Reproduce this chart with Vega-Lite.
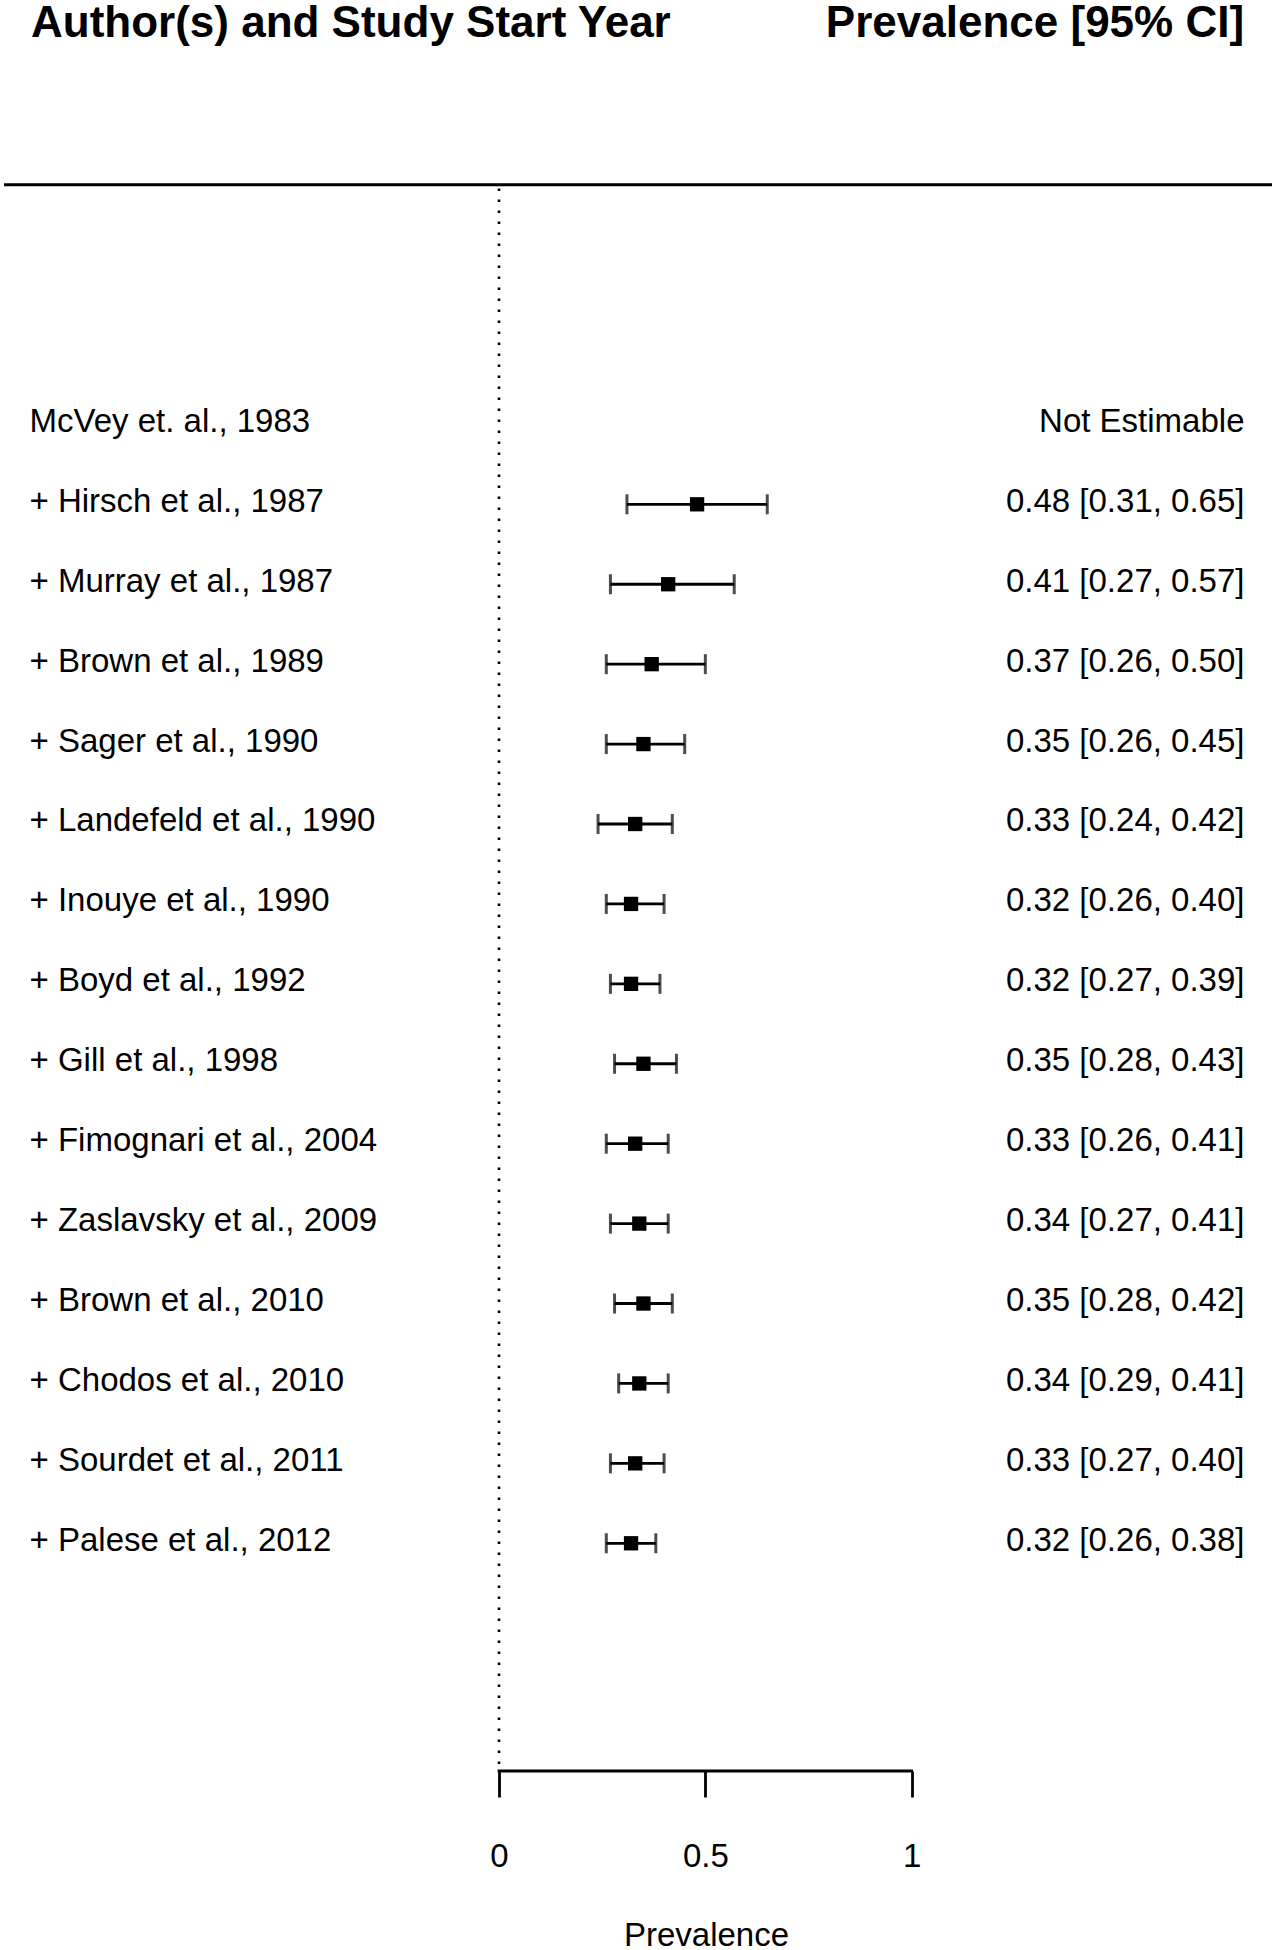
{
  "$schema": "https://vega.github.io/schema/vega-lite/v6.json",
  "width": 1276,
  "height": 1771,
  "autosize": {"type": "none"},
  "padding": {"left": 0, "top": 0, "right": 0, "bottom": 179},
  "background": "white",
  "config": {
    "view": {"stroke": null},
    "font": "Liberation Sans",
    "text": {"font": "Liberation Sans", "color": "black"}
  },
  "datasets": {
    "studies": [
      {"row": 1, "study": "McVey et. al., 1983", "ci": "Not Estimable", "est": null, "lower": null, "upper": null},
      {"row": 2, "study": "+ Hirsch et al., 1987", "ci": "0.48 [0.31, 0.65]", "est": 0.48, "lower": 0.31, "upper": 0.65},
      {"row": 3, "study": "+ Murray et al., 1987", "ci": "0.41 [0.27, 0.57]", "est": 0.41, "lower": 0.27, "upper": 0.57},
      {"row": 4, "study": "+ Brown et al., 1989", "ci": "0.37 [0.26, 0.50]", "est": 0.37, "lower": 0.26, "upper": 0.50},
      {"row": 5, "study": "+ Sager et al., 1990", "ci": "0.35 [0.26, 0.45]", "est": 0.35, "lower": 0.26, "upper": 0.45},
      {"row": 6, "study": "+ Landefeld et al., 1990", "ci": "0.33 [0.24, 0.42]", "est": 0.33, "lower": 0.24, "upper": 0.42},
      {"row": 7, "study": "+ Inouye et al., 1990", "ci": "0.32 [0.26, 0.40]", "est": 0.32, "lower": 0.26, "upper": 0.40},
      {"row": 8, "study": "+ Boyd et al., 1992", "ci": "0.32 [0.27, 0.39]", "est": 0.32, "lower": 0.27, "upper": 0.39},
      {"row": 9, "study": "+ Gill et al., 1998", "ci": "0.35 [0.28, 0.43]", "est": 0.35, "lower": 0.28, "upper": 0.43},
      {"row": 10, "study": "+ Fimognari et al., 2004", "ci": "0.33 [0.26, 0.41]", "est": 0.33, "lower": 0.26, "upper": 0.41},
      {"row": 11, "study": "+ Zaslavsky et al., 2009", "ci": "0.34 [0.27, 0.41]", "est": 0.34, "lower": 0.27, "upper": 0.41},
      {"row": 12, "study": "+ Brown et al., 2010", "ci": "0.35 [0.28, 0.42]", "est": 0.35, "lower": 0.28, "upper": 0.42},
      {"row": 13, "study": "+ Chodos et al., 2010", "ci": "0.34 [0.29, 0.41]", "est": 0.34, "lower": 0.29, "upper": 0.41},
      {"row": 14, "study": "+ Sourdet et al., 2011", "ci": "0.33 [0.27, 0.40]", "est": 0.33, "lower": 0.27, "upper": 0.40},
      {"row": 15, "study": "+ Palese et al., 2012", "ci": "0.32 [0.26, 0.38]", "est": 0.32, "lower": 0.26, "upper": 0.38}
    ],
    "header": [
      {"left": "Author(s) and Study Start Year", "right": "Prevalence [95% CI]"}
    ]
  },
  "layer": [
    {
      "data": {"name": "studies"},
      "transform": [{"filter": "datum.est != null"}],
      "mark": {
        "type": "errorbar",
        "ticks": {"size": 20, "thickness": 3, "color": "black"},
        "rule": {"strokeWidth": 2.8, "color": "black"}
      },
      "encoding": {
        "x": {
          "field": "lower", "type": "quantitative",
          "scale": {"domain": [-1.2092, 1.88286], "nice": false, "zero": false},
          "title": "Prevalence",
          "axis": {
            "values": [0, 0.5, 1],
            "format": "~g",
            "domain": false,
            "grid": false,
            "ticks": true,
            "tickSize": 26,
            "tickWidth": 2.8,
            "tickColor": "black",
            "labelFont": "Liberation Sans",
            "labelFontSize": 33,
            "labelColor": "black",
            "labelPadding": 43.6,
            "labelFlush": false,
            "labelOverlap": false,
            "titleFont": "Liberation Sans",
            "titleFontSize": 33,
            "titleFontWeight": "normal",
            "titleColor": "black",
            "titleX": 706,
            "titleY": 174,
            "titleAlign": "center",
            "titleBaseline": "alphabetic"
          }
        },
        "x2": {"field": "upper"},
        "y": {
          "field": "row", "type": "quantitative",
          "scale": {"domain": [-4.3103, 17.8494], "reverse": true, "nice": false, "zero": false},
          "axis": null
        }
      }
    },
    {
      "data": {"name": "studies"},
      "transform": [{"filter": "datum.est != null"}],
      "mark": {"type": "square", "size": 205, "filled": true, "color": "black", "opacity": 1},
      "encoding": {
        "x": {"field": "est", "type": "quantitative", "title": "Prevalence"},
        "y": {"field": "row", "type": "quantitative", "axis": null}
      }
    },
    {
      "data": {"name": "studies"},
      "mark": {"type": "text", "align": "left", "baseline": "middle", "fontSize": 33, "dy": -2.5},
      "encoding": {
        "x": {"datum": -1.1377},
        "y": {"field": "row", "type": "quantitative", "axis": null},
        "text": {"field": "study"}
      }
    },
    {
      "data": {"name": "studies"},
      "mark": {"type": "text", "align": "right", "baseline": "middle", "fontSize": 33, "dy": -2.5},
      "encoding": {
        "x": {"datum": 1.8065},
        "y": {"field": "row", "type": "quantitative", "axis": null},
        "text": {"field": "ci"}
      }
    },
    {
      "data": {"name": "header"},
      "mark": {"type": "text", "align": "left", "baseline": "alphabetic", "fontSize": 44, "fontWeight": "bold"},
      "encoding": {
        "x": {"datum": -1.1341},
        "y": {"datum": -3.847, "axis": null},
        "text": {"field": "left"}
      }
    },
    {
      "data": {"name": "header"},
      "mark": {"type": "text", "align": "right", "baseline": "alphabetic", "fontSize": 44, "fontWeight": "bold"},
      "encoding": {
        "x": {"datum": 1.8055},
        "y": {"datum": -3.847, "axis": null},
        "text": {"field": "right"}
      }
    },
    {
      "data": {"name": "header"},
      "mark": {"type": "rule", "color": "black", "strokeWidth": 3},
      "encoding": {
        "x": {"datum": -1.1995},
        "x2": {"datum": 1.8732},
        "y": {"datum": -2.0, "axis": null}
      }
    },
    {
      "data": {"name": "header"},
      "mark": {"type": "rule", "color": "black", "strokeWidth": 2.6, "strokeDash": [2.6, 8.4]},
      "encoding": {
        "x": {"datum": 0},
        "y": {"datum": -1.952, "axis": null},
        "y2": {"datum": 17.8494}
      }
    },
    {
      "data": {"name": "header"},
      "mark": {"type": "rule", "color": "black", "strokeWidth": 2.8, "strokeCap": "square"},
      "encoding": {
        "x": {"datum": 0},
        "x2": {"datum": 1},
        "y": {"datum": 17.8494, "axis": null}
      }
    }
  ]
}
